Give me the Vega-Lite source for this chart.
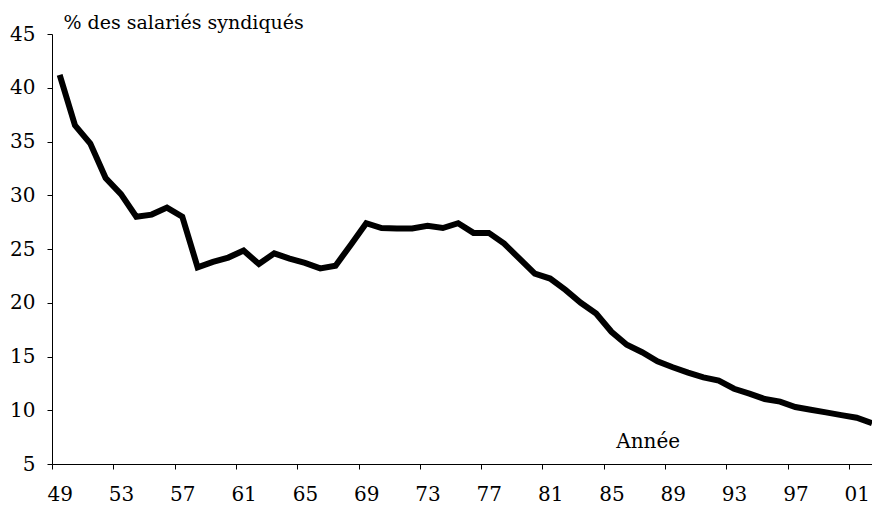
{
  "$schema": "https://vega.github.io/schema/vega-lite/v6.json",
  "width": 820,
  "height": 430,
  "autosize": "none",
  "padding": {"left": 52, "top": 34, "right": 0, "bottom": 41},
  "background": "white",
  "config": {"view": {"stroke": null}, "font": "DejaVu Serif"},
  "data": {"values": [
    {"annee": 1949, "taux": 41.2}, {"annee": 1950, "taux": 36.5}, {"annee": 1951, "taux": 34.8},
    {"annee": 1952, "taux": 31.6}, {"annee": 1953, "taux": 30.1}, {"annee": 1954, "taux": 28.0},
    {"annee": 1955, "taux": 28.2}, {"annee": 1956, "taux": 28.85}, {"annee": 1957, "taux": 28.0},
    {"annee": 1958, "taux": 23.3}, {"annee": 1959, "taux": 23.8}, {"annee": 1960, "taux": 24.2},
    {"annee": 1961, "taux": 24.85}, {"annee": 1962, "taux": 23.6}, {"annee": 1963, "taux": 24.6},
    {"annee": 1964, "taux": 24.1}, {"annee": 1965, "taux": 23.7}, {"annee": 1966, "taux": 23.2},
    {"annee": 1967, "taux": 23.45}, {"annee": 1968, "taux": 25.4}, {"annee": 1969, "taux": 27.4},
    {"annee": 1970, "taux": 26.95}, {"annee": 1971, "taux": 26.9}, {"annee": 1972, "taux": 26.9},
    {"annee": 1973, "taux": 27.15}, {"annee": 1974, "taux": 26.95}, {"annee": 1975, "taux": 27.4},
    {"annee": 1976, "taux": 26.5}, {"annee": 1977, "taux": 26.5}, {"annee": 1978, "taux": 25.5},
    {"annee": 1979, "taux": 24.1}, {"annee": 1980, "taux": 22.7}, {"annee": 1981, "taux": 22.25},
    {"annee": 1982, "taux": 21.2}, {"annee": 1983, "taux": 20.0}, {"annee": 1984, "taux": 19.0},
    {"annee": 1985, "taux": 17.3}, {"annee": 1986, "taux": 16.1}, {"annee": 1987, "taux": 15.4},
    {"annee": 1988, "taux": 14.55}, {"annee": 1989, "taux": 14.0}, {"annee": 1990, "taux": 13.5},
    {"annee": 1991, "taux": 13.05}, {"annee": 1992, "taux": 12.75}, {"annee": 1993, "taux": 12.0},
    {"annee": 1994, "taux": 11.55}, {"annee": 1995, "taux": 11.05}, {"annee": 1996, "taux": 10.8},
    {"annee": 1997, "taux": 10.3}, {"annee": 1998, "taux": 10.05}, {"annee": 1999, "taux": 9.8},
    {"annee": 2000, "taux": 9.55}, {"annee": 2001, "taux": 9.3}, {"annee": 2002, "taux": 8.8}
  ]},
  "layer": [
    {
      "mark": {"type": "line", "color": "black", "strokeWidth": 6, "clip": true},
      "encoding": {
        "x": {
          "field": "annee", "type": "quantitative",
          "scale": {"domain": [1948.5, 2002], "nice": false, "zero": false},
          "axis": {
            "values": [1948.5, 1949.5, 1950.5, 1951.5, 1952.5, 1953.5, 1954.5, 1955.5, 1956.5, 1957.5, 1958.5, 1959.5, 1960.5, 1961.5, 1962.5, 1963.5, 1964.5, 1965.5, 1966.5, 1967.5, 1968.5, 1969.5, 1970.5, 1971.5, 1972.5, 1973.5, 1974.5, 1975.5, 1976.5, 1977.5, 1978.5, 1979.5, 1980.5, 1981.5, 1982.5, 1983.5, 1984.5, 1985.5, 1986.5, 1987.5, 1988.5, 1989.5, 1990.5, 1991.5, 1992.5, 1993.5, 1994.5, 1995.5, 1996.5, 1997.5, 1998.5, 1999.5, 2000.5, 2001.5],
            "labelExpr": "(datum.value + 0.5 - 1949) % 4 == 0 ? format((datum.value + 0.5) % 100, '02d') : ''",
            "labelOffset": 7.67,
            "labelOverlap": false,
            "labelFlush": false,
            "labelBound": false,
            "grid": false,
            "tickSize": 5,
            "tickColor": "black",
            "domainColor": "black",
            "labelColor": "black",
            "labelFont": "DejaVu Serif",
            "labelFontSize": 20,
            "labelPadding": 15,
            "title": null
          }
        },
        "y": {
          "field": "taux", "type": "quantitative",
          "scale": {"domain": [5, 45], "nice": false, "zero": false},
          "axis": {
            "values": [5, 10, 15, 20, 25, 30, 35, 40, 45],
            "grid": false,
            "tickSize": 5,
            "tickColor": "black",
            "domainColor": "black",
            "labelColor": "black",
            "labelFont": "DejaVu Serif",
            "labelFontSize": 20,
            "labelPadding": 12,
            "title": "% des salariés syndiqués",
            "titleAngle": 0,
            "titleAlign": "left",
            "titleBaseline": "alphabetic",
            "titleX": 11,
            "titleY": -6,
            "titleFont": "DejaVu Serif",
            "titleFontSize": 19,
            "titleFontWeight": "normal",
            "titleColor": "black"
          }
        }
      }
    },
    {
      "data": {"values": [{"annee": 1987.4, "taux": 6.5, "label": "Année"}]},
      "mark": {"type": "text", "font": "DejaVu Serif", "fontSize": 20, "baseline": "alphabetic", "align": "center", "color": "black"},
      "encoding": {
        "x": {"field": "annee", "type": "quantitative"},
        "y": {"field": "taux", "type": "quantitative"},
        "text": {"field": "label"}
      }
    }
  ]
}
